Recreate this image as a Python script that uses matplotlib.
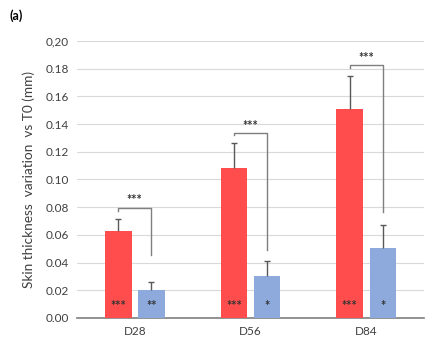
import matplotlib
matplotlib.use('Agg')
import matplotlib.pyplot as plt
import numpy as np

days = ['D28', 'D56', 'D84']
red_vals = [0.063, 0.108, 0.151]
red_err = [0.0087, 0.018, 0.0235]
blue_vals = [0.0204, 0.0304, 0.0506]
blue_err = [0.0053, 0.0108, 0.0163]
red_stars = ['***', '***', '***']
blue_stars = ['**', '*', '*']
# bracket: top level, left leg end, right leg end
br_top = [0.0796, 0.1336, 0.1825]
br_left = [0.0775, 0.1318, 0.1805]
br_right = [0.0458, 0.0490, 0.0765]
yticks = [0.0, 0.02, 0.04, 0.06, 0.08, 0.10, 0.12, 0.14, 0.16, 0.18, 0.20]
ytick_labels = ['0.00', '0.02', '0.04', '0.06', '0.08', '0.10', '0.12', '0.14', '0.16', '0.18', '0,20']

plt.rcParams['font.family'] = ['Lato', 'DejaVu Sans']

fig = plt.figure(figsize=(4.47, 3.43), dpi=100)
ax = fig.add_axes([0.172, 0.0729, 0.777, 0.8076])

x = np.arange(len(days))
w = 0.23
off = 0.143
xr = x - off
xb = x + off

ax.bar(xr, red_vals, w, color='#FF4D4D', zorder=3)
ax.bar(xb, blue_vals, w, color='#8EA9DB', zorder=3)
for xs, vals, errs in [(xr, red_vals, red_err), (xb, blue_vals, blue_err)]:
    eb = ax.errorbar(xs, vals, yerr=[np.zeros(3), errs], fmt='none', ecolor='#595959',
                     elinewidth=1, capsize=2.5, capthick=1, zorder=4)
    eb[1][0].set_visible(False)  # no cap at the bar top

for i in range(len(days)):
    ax.text(xr[i], 0.0085, red_stars[i], ha='center', va='center', fontsize=9,
            fontweight='bold', color='#333333', zorder=5)
    ax.text(xb[i], 0.0085, blue_stars[i], ha='center', va='center', fontsize=9,
            fontweight='bold', color='#333333', zorder=5)
    ax.plot([xr[i], xr[i], xb[i], xb[i]], [br_left[i], br_top[i], br_top[i], br_right[i]],
            color='#7f7f7f', lw=1, zorder=4)
    ax.text((xr[i] + xb[i]) / 2, br_top[i] + 0.001, '***', ha='center', va='bottom',
            fontsize=9, fontweight='bold', color='#333333')

ax.set_xlim(-0.5, 2.5)
ax.set_ylim(0, 0.20)
ax.set_yticks(yticks)
ax.set_yticklabels(ytick_labels)
ax.set_xticks(x)
ax.set_xticklabels(days)
ax.tick_params(length=0, labelsize=8.5, colors='#404040', pad=6)
ax.grid(axis='y', color='#d9d9d9', lw=0.8, zorder=0)
ax.set_axisbelow(True)
for s in ['top', 'right', 'left']:
    ax.spines[s].set_visible(False)
ax.spines['bottom'].set_color('#7f7f7f')
ax.spines['bottom'].set_linewidth(1.2)
ax.set_ylabel('Skin thickness  variation  vs T0 (mm)', fontsize=9.8, color='#404040', labelpad=7)

fig.text(0.022, 0.955, '(a)', fontsize=9, fontweight='bold', va='center')

fig.savefig('out.png', dpi=100)
